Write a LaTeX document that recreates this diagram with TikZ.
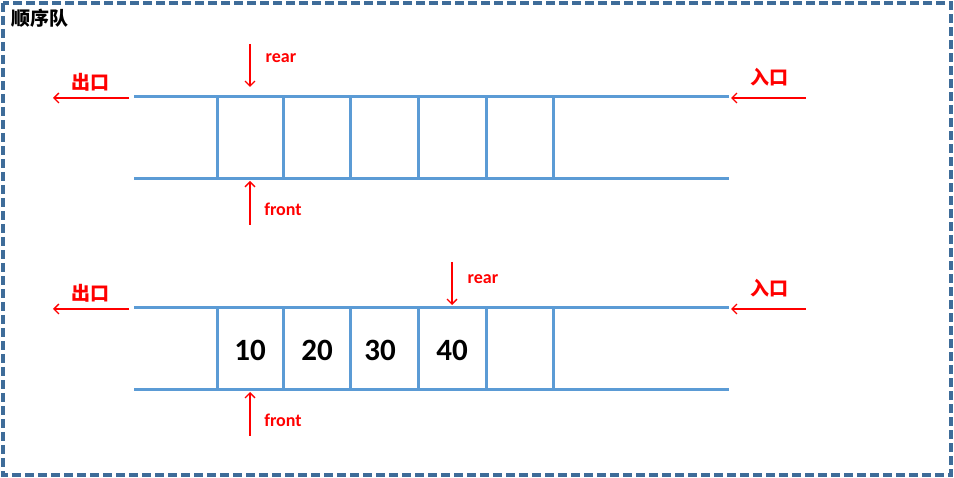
\documentclass[tikz,border=0pt]{standalone}
\usepackage{fontspec}
\setmainfont{Carlito}
\newfontfamily\cjk{Noto Sans CJK SC}
\usetikzlibrary{arrows.meta, positioning}
\definecolor{qblue}{HTML}{5B9BD5}
\definecolor{frameblue}{HTML}{3E6C99}

\begin{document}
\begin{tikzpicture}[x=1pt, y=-1pt, >={Straight Barb[length=5pt, width=10pt]},
  qline/.style={draw=qblue, line width=3pt},
  ptr/.style={->, red, line width=1.4pt},
  ptrlbl/.style={text=red, font=\bfseries\fontsize{18}{18}\selectfont},
  gate/.style={text=red, font=\cjk\bfseries\fontsize{19}{19}\selectfont},
  val/.style={font=\bfseries\fontsize{31}{31}\selectfont}]

\useasboundingbox (0,0) rectangle (954,478);
\draw[frameblue, line width=3.2pt, dash pattern=on 9pt off 4pt] (3,3) rectangle (951,475);
\node[anchor=west, font=\cjk\bfseries\fontsize{19}{19}\selectfont] (title) at (8,18) {顺序队};

% two queues, one below the other
\foreach \dy/\q in {0/one, 211/two} {
  \draw[qline] (134,97+\dy) -- (729,97+\dy);
  \draw[qline] (134,179+\dy) -- (729,179+\dy);
  \foreach \x in {217,283,350,418,486,553}
    \draw[qline] (\x,97+\dy) -- (\x,179+\dy);
  \node[gate] (\q-out) at (90,82+\dy) {出口};
  \node[gate] (\q-in) at (769,77+\dy) {入口};
  \coordinate (\q-outs) at (129,98+\dy);
  \coordinate (\q-oute) at (53,98+\dy);
  \coordinate (\q-ins) at (806,98+\dy);
  \coordinate (\q-ine) at (731,98+\dy);
  \draw[ptr] (\q-outs) -- (\q-oute);
  \draw[ptr] (\q-ins) -- (\q-ine);
  \node[ptrlbl] (\q-front) at (283,209+\dy) {front};
  \coordinate (\q-fs) at (250,225+\dy);
  \coordinate (\q-fe) at (250,181+\dy);
  \draw[ptr] (\q-fs) -- (\q-fe);
}

\node[ptrlbl] (one-rear) at (281,58) {rear};
\coordinate (one-rs) at (250,44);
\coordinate (one-re) at (250,87);
\draw[ptr] (one-rs) -- (one-re);

\node[ptrlbl] (two-rear) at (483,279) {rear};
\coordinate (two-rs) at (452,262);
\coordinate (two-re) at (452,305);
\draw[ptr] (two-rs) -- (two-re);

\node[val] (v10) at (250,350) {10};
\node[val] (v20) at (317,350) {20};
\node[val] (v30) at (380,350) {30};
\node[val] (v40) at (452,350) {40};

\end{tikzpicture}
\end{document}
